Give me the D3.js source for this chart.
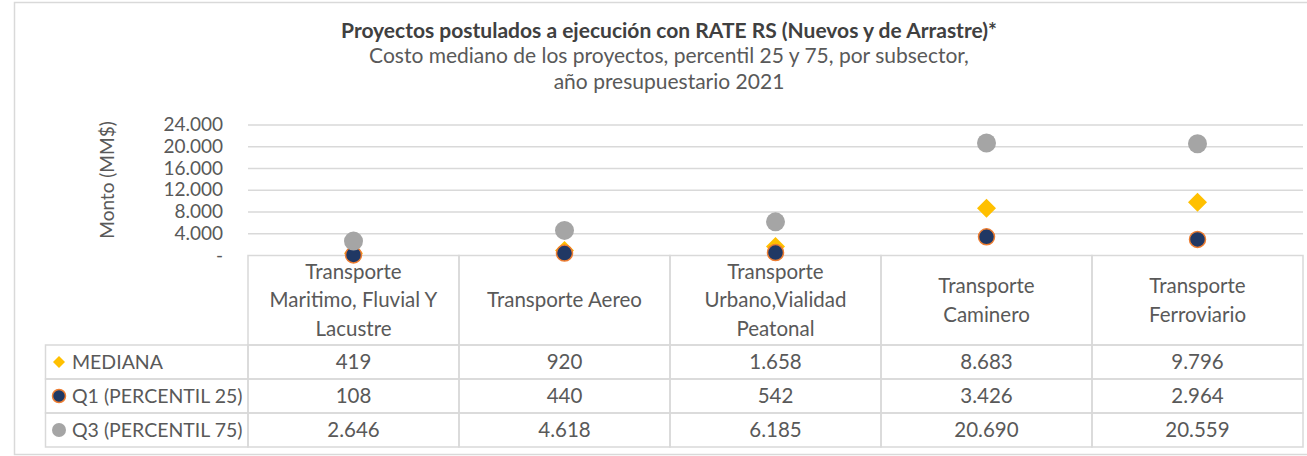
<!DOCTYPE html>
<html>
<head>
<meta charset="utf-8">
<script src="https://cdn.jsdelivr.net/npm/d3@7"></script>
<style>
  body { margin: 0; background: #fff; }
  text { font-family: Lato, "Open Sans", sans-serif; fill: #595959; }
  .title { font-weight: bold; fill: #404040; }
  .grid { stroke: #d9d9d9; stroke-width: 1.5; }
  .cell { fill: none; stroke: #d9d9d9; stroke-width: 1.5; }
</style>
</head>
<body>
<script>
// Data
var categories = [
    ["Transporte", "Maritimo, Fluvial Y", "Lacustre"],
    ["Transporte Aereo"],
    ["Transporte", "Urbano,Vialidad", "Peatonal"],
    ["Transporte", "Caminero"],
    ["Transporte", "Ferroviario"]
];
var mediana = [419, 920, 1658, 8683, 9796];
var q1 = [108, 440, 542, 3426, 2964];
var q3 = [2646, 4618, 6185, 20690, 20559];
var seriesNames = ["MEDIANA", "Q1 (PERCENTIL 25)", "Q3 (PERCENTIL 75)"];
var yTicks = [0, 4000, 8000, 12000, 16000, 20000, 24000];

var w = 1307, h = 456;

var svg = d3.select("body").append("svg")
    .attr("width", w)
    .attr("height", h);

// outer chart border
svg.append("rect")
    .attr("x", 14.5).attr("y", 2.5)
    .attr("width", 1300).attr("height", 452)
    .attr("fill", "#fff")
    .attr("stroke", "#d9d9d9")
    .attr("stroke-width", 1.5);

// Titles
var titleX = 669;
svg.append("text").attr("class", "title")
    .attr("x", titleX).attr("y", 38)
    .attr("text-anchor", "middle")
    .style("font-size", "21px")
    .text("Proyectos postulados a ejecución con RATE RS (Nuevos y de Arrastre)*");
svg.append("text")
    .attr("x", titleX).attr("y", 63)
    .attr("text-anchor", "middle")
    .style("font-size", "21px")
    .text("Costo mediano de los proyectos, percentil 25 y 75, por subsector,");
svg.append("text")
    .attr("x", titleX).attr("y", 89)
    .attr("text-anchor", "middle")
    .style("font-size", "21px")
    .text("año presupuestario 2021");

// Scales
var plotLeft = 248, plotRight = 1303;
var x = d3.scaleBand()
    .domain(d3.range(categories.length))
    .range([plotLeft, plotRight]);

var y = d3.scaleLinear()
    .domain([0, 24000])
    .range([255.5, 125]);

// gridlines
svg.selectAll("line.grid")
    .data(yTicks.slice(1))
    .enter().append("line")
    .attr("class", "grid")
    .attr("x1", plotLeft).attr("x2", plotRight)
    .attr("y1", function(d) { return y(d); })
    .attr("y2", function(d) { return y(d); });

// y axis labels
var fmt = function(d) {
    if (d === 0) return "-";
    return d3.format(",")(d).replace(/,/g, ".");
};
svg.selectAll("text.ytick")
    .data(yTicks)
    .enter().append("text")
    .attr("class", "ytick")
    .attr("x", 223)
    .attr("y", function(d) { return y(d) + 6; })
    .attr("text-anchor", "end")
    .style("font-size", "19px")
    .text(fmt);

svg.append("text")
    .attr("transform", "translate(114,180) rotate(-90)")
    .attr("text-anchor", "middle")
    .style("font-size", "19px")
    .text("Monto (MM$)");

// Data table
var yHead = 255.5, yRow1 = 345, rowH = 34;
var legLeft = 45.5;
var tfs = "20.5px";

// header cells
categories.forEach(function(c, i) {
    svg.append("rect").attr("class", "cell")
        .attr("x", x(i)).attr("y", yHead)
        .attr("width", x.bandwidth()).attr("height", yRow1 - yHead);
    var cy = (yHead + yRow1) / 2;
    var lh = 28.5;
    c.forEach(function(line, k) {
        svg.append("text")
            .attr("x", x(i) + x.bandwidth() / 2)
            .attr("y", cy + (k - (c.length - 1) / 2) * lh + 7)
            .attr("text-anchor", "middle")
            .style("font-size", tfs)
            .text(line);
    });
});

var rows = [mediana, q1, q3];
rows.forEach(function(vals, r) {
    var ry = yRow1 + r * rowH;
    svg.append("rect").attr("class", "cell")
        .attr("x", legLeft).attr("y", ry)
        .attr("width", plotLeft - legLeft).attr("height", rowH);
    svg.append("text")
        .attr("x", 72).attr("y", ry + rowH / 2 + 7)
        .style("font-size", "19.5px")
        .text(seriesNames[r]);
    vals.forEach(function(v, i) {
        svg.append("rect").attr("class", "cell")
            .attr("x", x(i)).attr("y", ry)
            .attr("width", x.bandwidth()).attr("height", rowH);
        svg.append("text")
            .attr("x", x(i) + x.bandwidth() / 2)
            .attr("y", ry + rowH / 2 + 7)
            .attr("text-anchor", "middle")
            .style("font-size", tfs)
            .text(fmt(v));
    });
});

// marker drawers
function diamond(g, cx, cy, s) {
    g.append("path")
        .attr("d", "M" + cx + "," + (cy - s) + "L" + (cx + s) + "," + cy +
            "L" + cx + "," + (cy + s) + "L" + (cx - s) + "," + cy + "Z")
        .attr("fill", "#ffc000");
}
function q1Marker(g, cx, cy, r) {
    g.append("circle").attr("cx", cx).attr("cy", cy).attr("r", r)
        .attr("fill", "#203864").attr("stroke", "#ed7d31").attr("stroke-width", 1.5);
}
function q3Marker(g, cx, cy, r) {
    g.append("circle").attr("cx", cx).attr("cy", cy).attr("r", r)
        .attr("fill", "#a5a5a5");
}

// legend keys
var legX = 59;
diamond(svg, legX, yRow1 + rowH / 2, 6);
q1Marker(svg, legX, yRow1 + rowH * 1.5, 6.5);
q3Marker(svg, legX, yRow1 + rowH * 2.5, 7);

// series markers
var cx = function(i) { return x(i) + x.bandwidth() / 2; };
mediana.forEach(function(v, i) { diamond(svg, cx(i), y(v), 9.5); });
q1.forEach(function(v, i) { q1Marker(svg, cx(i), y(v), 8); });
q3.forEach(function(v, i) { q3Marker(svg, cx(i), y(v), 9.5); });
</script>
</body>
</html>
